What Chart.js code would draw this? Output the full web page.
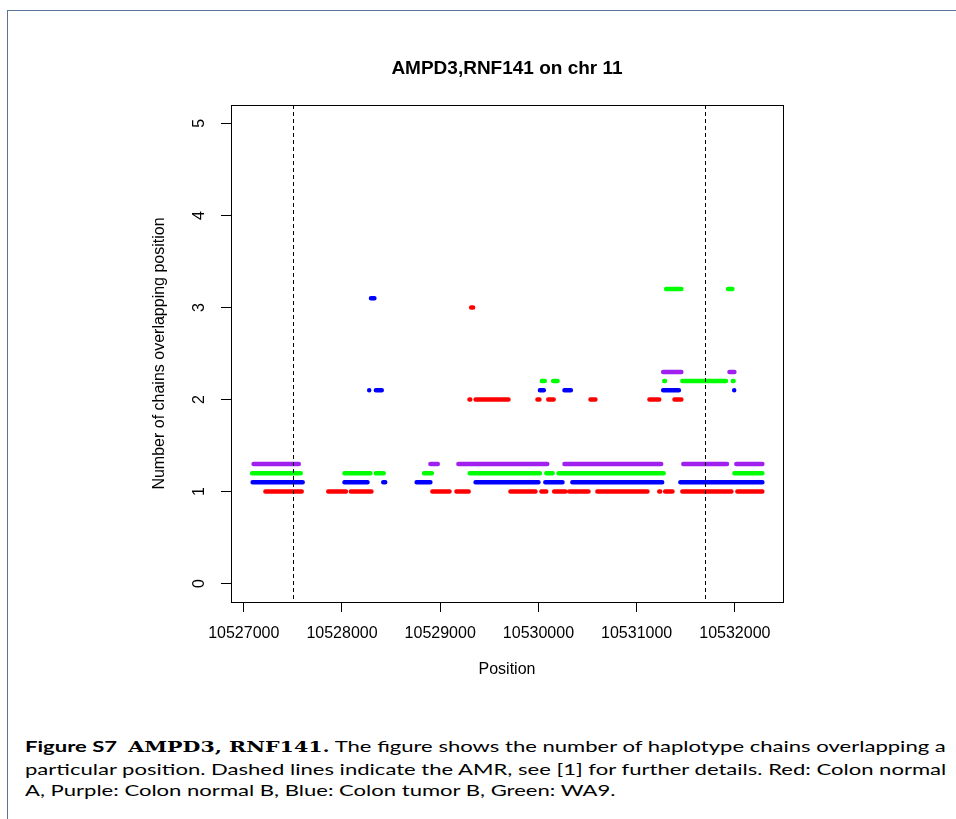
<!DOCTYPE html>
<html>
<head>
<meta charset="utf-8">
<script src="https://cdn.jsdelivr.net/npm/chart.js"></script>
<style>
  body { margin: 0; background: #fff; width: 956px; height: 819px; overflow: hidden; position: relative; }
  #frame { position: absolute; left: 7px; top: 10px; right: -2px; bottom: -2px; border-left: 1px solid #5b7399; border-top: 1px solid #5b7399; }
  #chart { position: absolute; left: 0; top: 0; }
  #caption { position: absolute; left: 25px; top: 736px; font-family: Lato, "Liberation Sans", sans-serif; font-size: 15px; line-height: 21.7px; color: #000; white-space: nowrap; transform: scaleX(1.47); transform-origin: 0 0; }
  #caption .fig { font-weight: bold; }
  #caption .gene { font-family: "DejaVu Serif", "Liberation Serif", serif; font-weight: bold; font-size: 14px; }
</style>
</head>
<body>
<div id="frame"></div>
<canvas id="chart" width="956" height="700"></canvas>
<div id="caption">
  <div><span class="fig">Figure S7</span>&nbsp; <span class="gene">AMPD3, RNF141.</span> The figure shows the number of haplotype chains overlapping a</div>
  <div>particular position. Dashed lines indicate the AMR, see [1] for further details. Red: Colon normal</div>
  <div>A, Purple: Colon normal B, Blue: Colon tumor B, Green: WA9.</div>
</div>
<script>
// axis ticks and AMR bounds
const xTickValues = [10527000, 10528000, 10529000, 10530000, 10531000, 10532000];
const yTickValues = [0, 1, 2, 3, 4, 5];
const amrBounds = [10527500, 10531700];
const chartTitle = 'AMPD3,RNF141 on chr 11';

// [start, end, chains] (each series is offset a little in y)
const redSegments = [
  [10527220, 10527590, 1.0], [10527860, 10528040, 1.0], [10528090, 10528300, 1.0],
  [10528920, 10529095, 1.0], [10529165, 10529290, 1.0], [10529715, 10529970, 1.0],
  [10530030, 10530080, 1.0], [10530160, 10530275, 1.0], [10530315, 10530510, 1.0],
  [10530600, 10531110, 1.0], [10531230, 10531240, 1.0], [10531290, 10531365, 1.0],
  [10531465, 10531965, 1.0], [10532025, 10532280, 1.0],
  [10529298, 10529306, 2.0], [10529360, 10529695, 2.0], [10529990, 10530010, 2.0],
  [10530100, 10530155, 2.0], [10530530, 10530580, 2.0], [10531130, 10531230, 2.0],
  [10531385, 10531455, 2.0],
  [10529315, 10529335, 3.0]
];
const purpleSegments = [
  [10527100, 10527560, 1.3], [10528900, 10528975, 1.3], [10529185, 10530090, 1.3],
  [10530265, 10531250, 1.3], [10531475, 10531920, 1.3], [10532015, 10532280, 1.3],
  [10531270, 10531455, 2.3], [10531945, 10531995, 2.3]
];
const blueSegments = [
  [10527090, 10527600, 1.1], [10528025, 10528260, 1.1], [10528420, 10528440, 1.1],
  [10528760, 10528900, 1.1], [10529360, 10530000, 1.1], [10530070, 10530245, 1.1],
  [10530345, 10531260, 1.1], [10531445, 10532280, 1.1],
  [10528277, 10528285, 2.1], [10528345, 10528405, 2.1], [10530015, 10530055, 2.1],
  [10530265, 10530330, 2.1], [10531270, 10531430, 2.1], [10531993, 10532001, 2.1],
  [10528295, 10528330, 3.1]
];
const greenSegments = [
  [10527085, 10527580, 1.2], [10528025, 10528290, 1.2], [10528345, 10528425, 1.2],
  [10528835, 10528915, 1.2], [10529300, 10530015, 1.2], [10530080, 10530145, 1.2],
  [10530205, 10531275, 1.2], [10531995, 10532280, 1.2],
  [10530035, 10530065, 2.2], [10530150, 10530195, 2.2], [10531281, 10531289, 2.2],
  [10531465, 10531910, 2.2], [10531979, 10531987, 2.2],
  [10531300, 10531455, 3.2], [10531930, 10531975, 3.2]
];

function toPoints(segs) {
  const pts = [];
  segs.forEach(s => {
    pts.push({x: s[0], y: s[2]}, {x: s[1], y: s[2]}, {x: s[1], y: null});
  });
  return pts;
}

function series(label, segs, color) {
  return {
    label: label,
    data: toPoints(segs),
    borderColor: color,
    backgroundColor: color,
    borderWidth: 4.5,
    borderCapStyle: 'round',
    pointRadius: 0,
    spanGaps: false,
    tension: 0
  };
}

// box round the plot, dashed AMR lines and a title centred over the plot area
const boxAndAmr = {
  id: 'boxAndAmr',
  afterDatasetsDraw(chart) {
    const {ctx, chartArea: a, scales} = chart;
    ctx.save();
    ctx.strokeStyle = '#000';
    ctx.lineWidth = 1;
    ctx.setLineDash([4, 3]);
    amrBounds.forEach(v => {
      const px = Math.round(scales.x.getPixelForValue(v)) + 0.5;
      ctx.beginPath();
      ctx.moveTo(px, a.top);
      ctx.lineTo(px, a.bottom);
      ctx.stroke();
    });
    ctx.setLineDash([]);
    ctx.strokeRect(Math.round(a.left) + 0.5, Math.round(a.top) + 0.5,
      Math.round(a.right - a.left), Math.round(a.bottom - a.top));
    ctx.fillStyle = '#000';
    ctx.font = 'bold 19px "Liberation Sans", Arial, sans-serif';
    ctx.textAlign = 'center';
    ctx.textBaseline = 'alphabetic';
    ctx.fillText(chartTitle, (a.left + a.right) / 2, 73.5);
    ctx.restore();
  }
};

const tickFont = {family: 'Liberation Sans, Arial, sans-serif', size: 16};

new Chart(document.getElementById('chart'), {
  type: 'line',
  data: {
    datasets: [
      series('Colon normal A', redSegments, '#ff0000'),
      series('Colon normal B', purpleSegments, '#a020f0'),
      series('Colon tumor B', blueSegments, '#0000ff'),
      series('WA9', greenSegments, '#00ff00')
    ]
  },
  options: {
    responsive: false,
    animation: false,
    layout: {padding: {left: 0, right: 173, top: 105, bottom: 0}},
    plugins: {
      legend: {display: false},
      tooltip: {enabled: false},
      title: {display: false}
    },
    scales: {
      x: {
        type: 'linear',
        min: 10526870,
        max: 10532490,
        afterBuildTicks: s => { s.ticks = xTickValues.map(v => ({value: v})); },
        afterFit: s => { s.height = 98; },
        ticks: {color: '#000', font: tickFont, padding: 11.5, maxRotation: 0, callback: v => String(v)},
        grid: {display: true, drawOnChartArea: false, drawTicks: true, tickLength: 10, color: '#000'},
        border: {display: false},
        title: {display: true, text: 'Position', color: '#000', font: tickFont, padding: {top: 0, bottom: 20.4}}
      },
      y: {
        min: -0.2,
        max: 5.2,
        afterBuildTicks: s => { s.ticks = yTickValues.map(v => ({value: v})); },
        afterFit: s => { s.width = 231; },
        ticks: {color: '#000', font: tickFont, padding: 16.5, minRotation: 90, maxRotation: 90, crossAlign: 'center'},
        grid: {display: true, drawOnChartArea: false, drawTicks: true, tickLength: 10, color: '#000'},
        border: {display: false},
        title: {display: true, text: 'Number of chains overlapping position', color: '#000', font: tickFont, padding: {top: 149.5, bottom: 0}}
      }
    }
  },
  plugins: [boxAndAmr]
});
</script>
</body>
</html>
